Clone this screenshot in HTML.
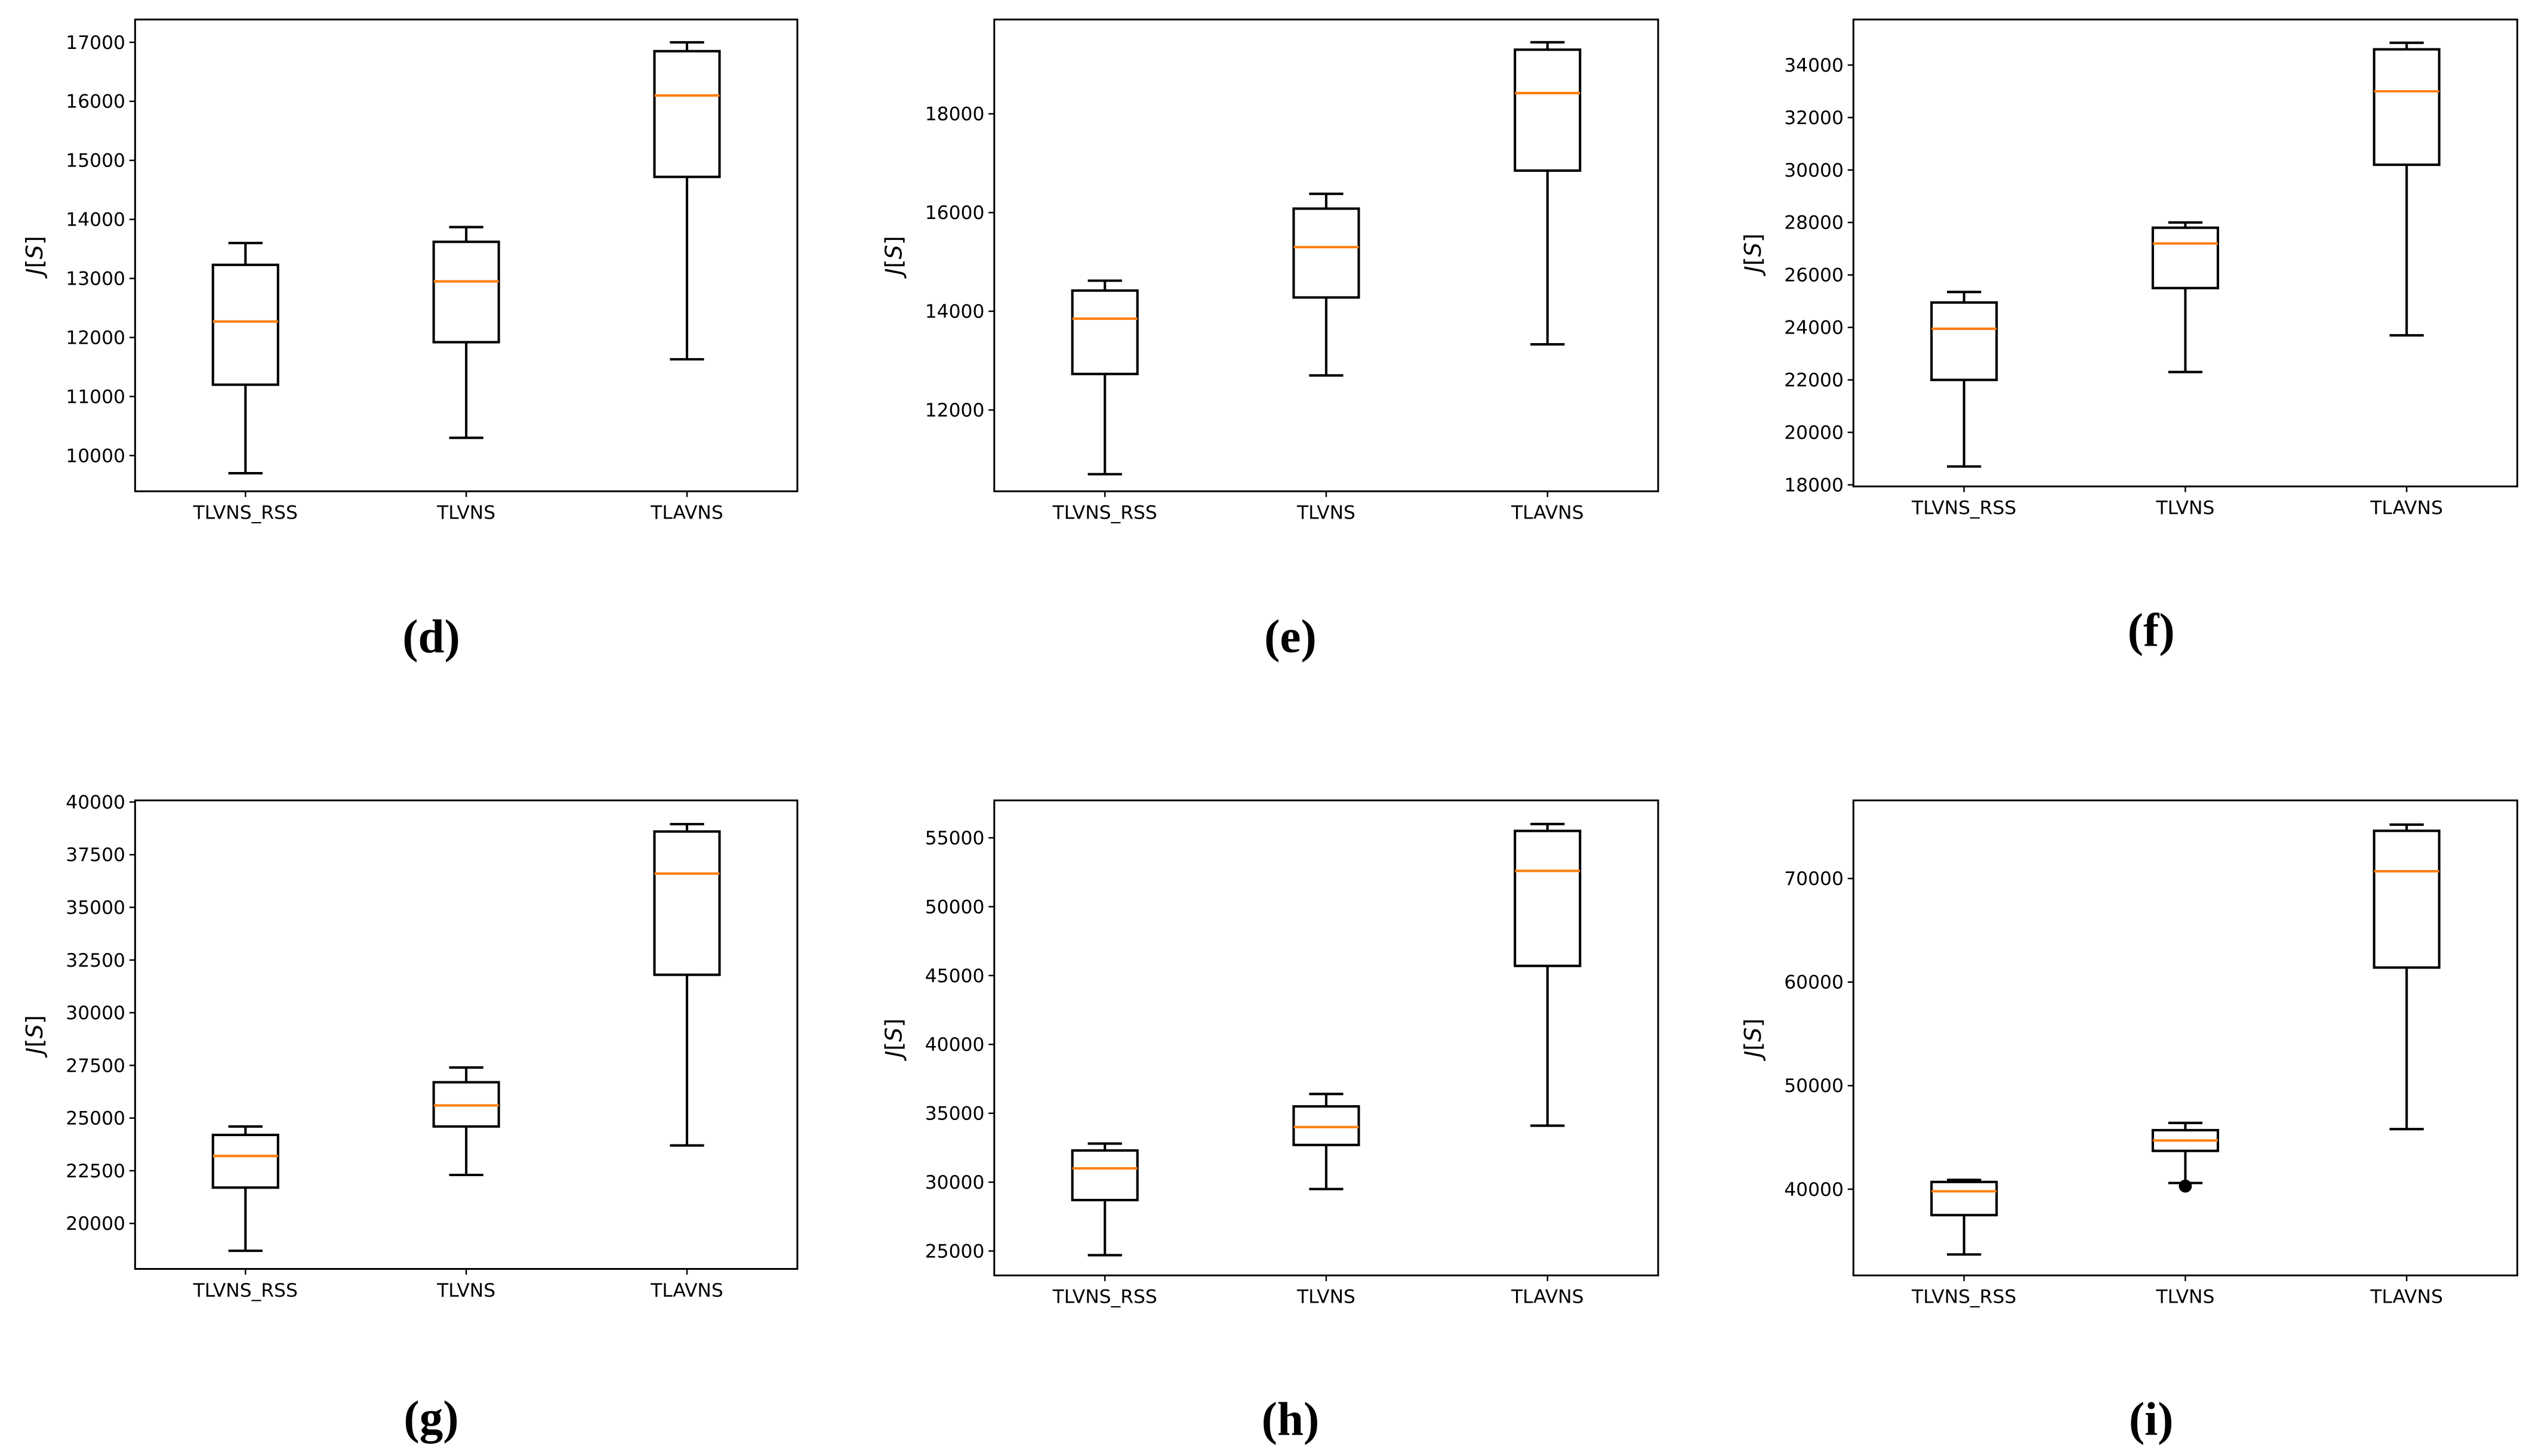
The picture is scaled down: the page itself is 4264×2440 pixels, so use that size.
<!DOCTYPE html>
<html><head><meta charset="utf-8"><style>
html,body{margin:0;padding:0;background:#fff;}
svg{display:block;}
text{font-family:"DejaVu Sans","Liberation Sans",sans-serif;}
</style></head><body>
<svg id="fig" width="4264" height="2440" viewBox="0 0 1564 895" xmlns="http://www.w3.org/2000/svg"></svg>
<script>
const categories = ["TLVNS_RSS","TLVNS","TLAVNS"];
// each box: [whiskerLow, q1, median, q3, whiskerHigh]
const dBoxes = [[9700,11200,12270,13230,13600],[10300,11920,12950,13620,13870],[11630,14720,16100,16850,17000]];
const eBoxes = [[10700,12730,13850,14420,14620],[12700,14280,15300,16080,16380],[13330,16850,18420,19300,19450]];
const fBoxes = [[18700,22000,23950,24950,25350],[22300,25500,27200,27800,28000],[23700,30200,33000,34600,34850]];
const gBoxes = [[18700,21700,23200,24200,24600],[22300,24600,25600,26700,27400],[23700,31800,36600,38600,38950]];
const hBoxes = [[24700,28700,31000,32300,32800],[29500,32700,34000,35500,36400],[34100,45700,52600,55500,56000]];
const iBoxes = [[33700,37500,39800,40700,40900],[40600,43700,44700,45700,46400],[45800,61400,70700,74600,75200]];
const iOutliers = [[],[40300],[]];
const dTicks = [10000,11000,12000,13000,14000,15000,16000,17000];
const eTicks = [12000,14000,16000,18000];
const fTicks = [18000,20000,22000,24000,26000,28000,30000,32000,34000];
const gTicks = [20000,22500,25000,27500,30000,32500,35000,37500,40000];
const hTicks = [25000,30000,35000,40000,45000,50000,55000];
const iTicks = [40000,50000,60000,70000];
const dLim=[9394,17386], eLim=[10353,19911], fLim=[17940,35736], gLim=[17840,40077], hLim=[23228,57717], iLim=[31676,77539];

const NS="http://www.w3.org/2000/svg";
const svg=document.getElementById('fig');
function mk(tag,attrs,parent){const e=document.createElementNS(NS,tag);for(const k in attrs)e.setAttribute(k,attrs[k]);(parent||svg).appendChild(e);return e;}

const panels=[
 {id:'d',x0:83,x1:490,y0:12,y1:302,boxes:dBoxes,ticks:dTicks,lim:dLim,out:null,cap:[265,392]},
 {id:'e',x0:611,x1:1019,y0:12,y1:302,boxes:eBoxes,ticks:eTicks,lim:eLim,out:null,cap:[793,392]},
 {id:'f',x0:1139,x1:1547,y0:12,y1:299,boxes:fBoxes,ticks:fTicks,lim:fLim,out:null,cap:[1322,388]},
 {id:'g',x0:83,x1:490,y0:492,y1:780,boxes:gBoxes,ticks:gTicks,lim:gLim,out:null,cap:[265,872]},
 {id:'h',x0:611,x1:1019,y0:492,y1:784,boxes:hBoxes,ticks:hTicks,lim:hLim,out:null,cap:[793,873]},
 {id:'i',x0:1139,x1:1547,y0:492,y1:784,boxes:iBoxes,ticks:iTicks,lim:iLim,out:iOutliers,cap:[1322,873]}
];

panels.forEach(p=>{
  const g=mk('g',{});
  
  
  const W=p.x1-p.x0;
  const yS=v=>p.y1-(v-p.lim[0])/(p.lim[1]-p.lim[0])*(p.y1-p.y0);
  const xS=i=>p.x0+W*(i+0.5)/3;
  p.ticks.forEach(t=>{
    const y=yS(t);
    mk('line',{x1:p.x0-3.5,x2:p.x0,y1:y,y2:y,stroke:'#000','stroke-width':0.9},g);
    const tx=mk('text',{x:p.x0-6,y:y+4,'font-size':11.5,'text-anchor':'end',fill:'#000'},g);
    tx.textContent=t;
    
    
  });
  categories.forEach((c,i)=>{
    const x=xS(i);
    mk('line',{x1:x,x2:x,y1:p.y1,y2:p.y1+3.5,stroke:'#000','stroke-width':0.9},g);
    const tx=mk('text',{x:x,y:p.y1+17,'font-size':11.5,'text-anchor':'middle',fill:'#000'},g);
    tx.textContent=c;
    
    
  });
  p.boxes.forEach((b,i)=>{
    const x=xS(i), hw=20, cw=10.5;
    const bg=mk('g',{stroke:'#000','stroke-width':1.5,fill:'none'},g);
    
    
    mk('line',{x1:x,x2:x,y1:yS(b[0]),y2:yS(b[1])},bg);
    mk('line',{x1:x,x2:x,y1:yS(b[3]),y2:yS(b[4])},bg);
    mk('line',{x1:x-cw,x2:x+cw,y1:yS(b[0]),y2:yS(b[0])},bg);
    mk('line',{x1:x-cw,x2:x+cw,y1:yS(b[4]),y2:yS(b[4])},bg);
    mk('rect',{x:x-hw,y:yS(b[3]),width:2*hw,height:yS(b[1])-yS(b[3])},bg);
    mk('line',{x1:x-hw,x2:x+hw,y1:yS(b[2]),y2:yS(b[2]),stroke:'#ff7f0e'},bg);
    if(p.out){p.out[i].forEach(o=>{
      const c=mk('circle',{cx:x,cy:yS(o),r:4,fill:'#000',stroke:'none'},g);
      
      
    });}
  });
  mk('rect',{x:p.x0,y:p.y0,width:W,height:p.y1-p.y0,fill:'none',stroke:'#000','stroke-width':1.1},g);
  const yc=(p.y0+p.y1)/2;
  const yl=mk('text',{x:0,y:0,'font-size':14,'text-anchor':'middle',transform:`translate(${p.x0-57},${yc}) rotate(-90)`},g);
  yl.innerHTML='<tspan font-style="italic">J</tspan>[<tspan font-style="italic">S</tspan>]';
  
  
  const cp=mk('text',{x:p.cap[0],y:p.cap[1]+9,'font-size':29,'text-anchor':'middle','font-weight':'bold',style:'font-family:"Liberation Serif",serif'},g);
  cp.textContent='('+p.id+')';
  
  
});
</script>
</body></html>
